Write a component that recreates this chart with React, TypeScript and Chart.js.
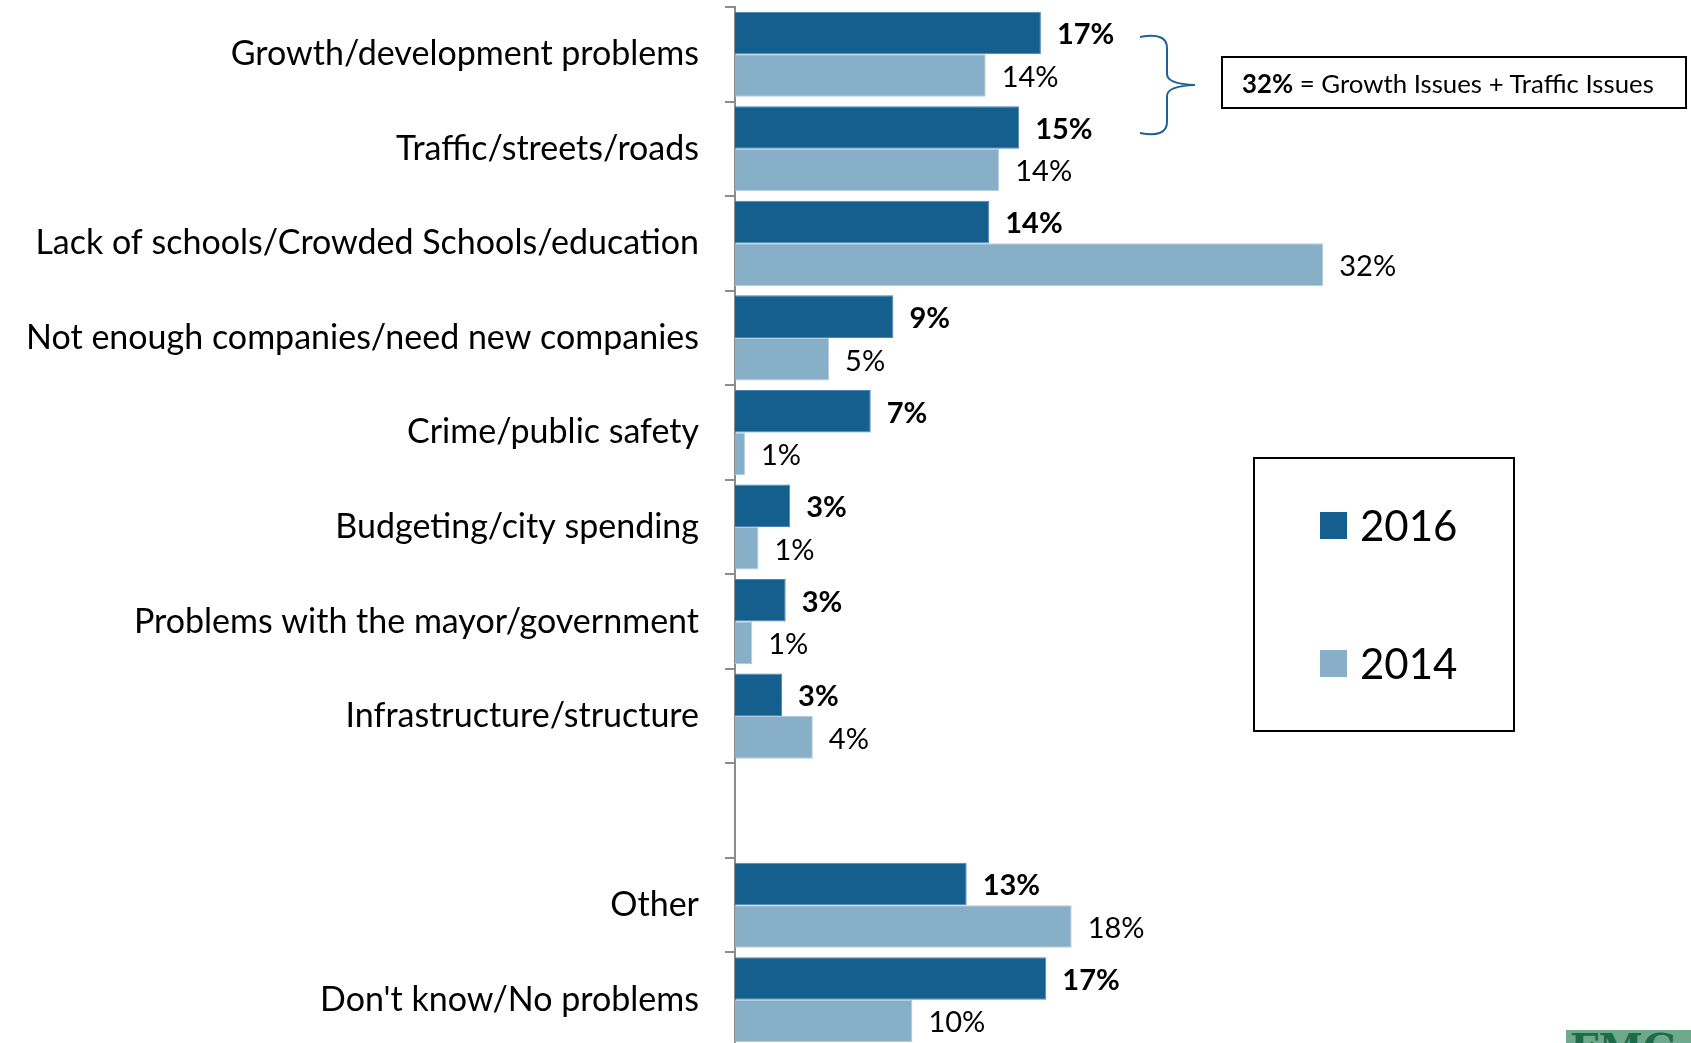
import React, { useEffect, useRef } from "react";
import { Chart, registerables } from "chart.js";

Chart.register(...registerables);

const categories = [
  "Growth/development problems",
  "Traffic/streets/roads",
  "Lack of schools/Crowded Schools/education",
  "Not enough companies/need new companies",
  "Crime/public safety",
  "Budgeting/city spending",
  "Problems with the mayor/government",
  "Infrastructure/structure",
  "",
  "Other",
  "Don't know/No problems",
];

const values2016 = [16.9, 15.7, 14.05, 8.75, 7.5, 3.05, 2.8, 2.6, null, 12.8, 17.2];
const values2014 = [13.85, 14.6, 32.5, 5.2, 0.55, 1.3, 0.95, 4.3, null, 18.6, 9.8];
const labels2016 = ["17%", "15%", "14%", "9%", "7%", "3%", "3%", "3%", "", "13%", "17%"];
const labels2014 = ["14%", "14%", "32%", "5%", "1%", "1%", "1%", "4%", "", "18%", "10%"];

const seriesNames = ["2016", "2014"];
const seriesColors = ["#145F8E", "#88AFC8"];
const seriesLabelWeights = ["bold", "normal"];

const annotationBold = "32%";
const annotationText = " = Growth Issues + Traffic Issues";

const FONT = "Lato, 'Open Sans', sans-serif";

const valueLabelPlugin = {
  id: "valueLabels",
  afterDatasetsDraw(chart: any) {
    const ctx = chart.ctx;
    const texts = [labels2016, labels2014];
    chart.data.datasets.forEach((ds: any, di: number) => {
      const meta = chart.getDatasetMeta(di);
      meta.data.forEach((bar: any, i: number) => {
        const t = texts[di][i];
        if (!t || ds.data[i] == null) return;
        ctx.save();
        ctx.font = `${seriesLabelWeights[di]} 29px ${FONT}`;
        ctx.fillStyle = "#000";
        ctx.textAlign = "left";
        ctx.textBaseline = "middle";
        ctx.fillText(t, bar.x + 16, bar.y + 2);
        ctx.restore();
      });
    });
  },
};

export default function App() {
  const ref = useRef<HTMLCanvasElement | null>(null);

  useEffect(() => {
    if (!ref.current) return;
    const chart = new Chart(ref.current, {
      type: "bar",
      data: {
        labels: categories,
        datasets: [
          {
            label: seriesNames[0],
            data: values2016,
            backgroundColor: seriesColors[0],
            borderColor: "#4A86B3",
            borderWidth: 1,
            categoryPercentage: 0.9,
            barPercentage: 1.0,
          },
          {
            label: seriesNames[1],
            data: values2014,
            backgroundColor: seriesColors[1],
            borderColor: "#B3CCDD",
            borderWidth: 1,
            categoryPercentage: 0.9,
            barPercentage: 1.0,
          },
        ],
      },
      options: {
        indexAxis: "y",
        animation: false,
        responsive: false,
        devicePixelRatio: 1,
        layout: { padding: { top: 7, bottom: 0, left: 0, right: 0 } },
        plugins: {
          legend: { display: false },
          tooltip: { enabled: false },
        },
        scales: {
          x: {
            display: false,
            min: 0,
            max: (1691 - 735) / 18.1,
          },
          y: {
            afterFit: (scale: any) => {
              scale.width = 735;
              scale.paddingTop = 0;
              scale.paddingBottom = 0;
            },
            border: { display: true, color: "#8C8C8C", width: 2 },
            grid: {
              display: true,
              drawOnChartArea: false,
              drawTicks: true,
              tickLength: 10,
              color: "#8C8C8C",
              lineWidth: 2,
              offset: true,
            },
            ticks: {
              color: "#000",
              padding: 26,
              autoSkip: false,
              font: { family: FONT, size: 34 },
            },
          },
        },
      },
      plugins: [valueLabelPlugin],
    } as any);
    return () => chart.destroy();
  }, []);

  return (
    <div
      style={{
        position: "absolute",
        left: 0,
        top: 0,
        width: 1691,
        height: 1043,
        overflow: "hidden",
        background: "#fff",
        fontFamily: FONT,
      }}
    >
      <canvas ref={ref} width={1691} height={1047} style={{ position: "absolute", left: 0, top: 0 }} />
      <svg
        width={80}
        height={120}
        style={{ position: "absolute", left: 1130, top: 25 }}
        viewBox="1130 25 80 120"
      >
        <path
          d="M1140 37 Q1167 32 1167 48 L1167 74 Q1167 84 1195 85 Q1167 86 1167 96 L1167 122 Q1167 138 1140 133"
          fill="none"
          stroke="#1F6396"
          strokeWidth={2}
        />
      </svg>
      <div
        style={{
          position: "absolute",
          left: 1221,
          top: 56,
          width: 466,
          height: 53,
          border: "2px solid #000",
          boxSizing: "border-box",
          display: "flex",
          alignItems: "center",
          paddingLeft: 19,
          fontSize: 25.8,
          color: "#000",
          whiteSpace: "nowrap",
        }}
      >
        <b>{annotationBold}</b>
        <span style={{ whiteSpace: "pre" }}>{annotationText}</span>
      </div>
      <div
        style={{
          position: "absolute",
          left: 1253,
          top: 457,
          width: 262,
          height: 275,
          border: "2px solid #000",
          boxSizing: "border-box",
        }}
      >
        {seriesNames.map((name, i) => (
          <div
            key={name}
            style={{
              position: "absolute",
              left: 65,
              top: i === 0 ? 36 : 174,
              display: "flex",
              alignItems: "center",
              height: 60,
            }}
          >
            <div style={{ width: 27, height: 27, background: seriesColors[i], marginRight: 13 }} />
            <span style={{ fontSize: 42, color: "#000" }}>{name}</span>
          </div>
        ))}
      </div>
      <div
        style={{
          position: "absolute",
          left: 1566,
          top: 1030,
          width: 125,
          height: 13,
          background: "#6FA98D",
          overflow: "hidden",
        }}
      >
        <span
          style={{
            position: "absolute",
            left: 4,
            top: -2,
            fontFamily: "'DejaVu Serif', serif",
            fontSize: 40,
            lineHeight: "40px",
            color: "#1E6B4A",
            fontWeight: "bold",
          }}
        >
          FMG
        </span>
      </div>
    </div>
  );
}
